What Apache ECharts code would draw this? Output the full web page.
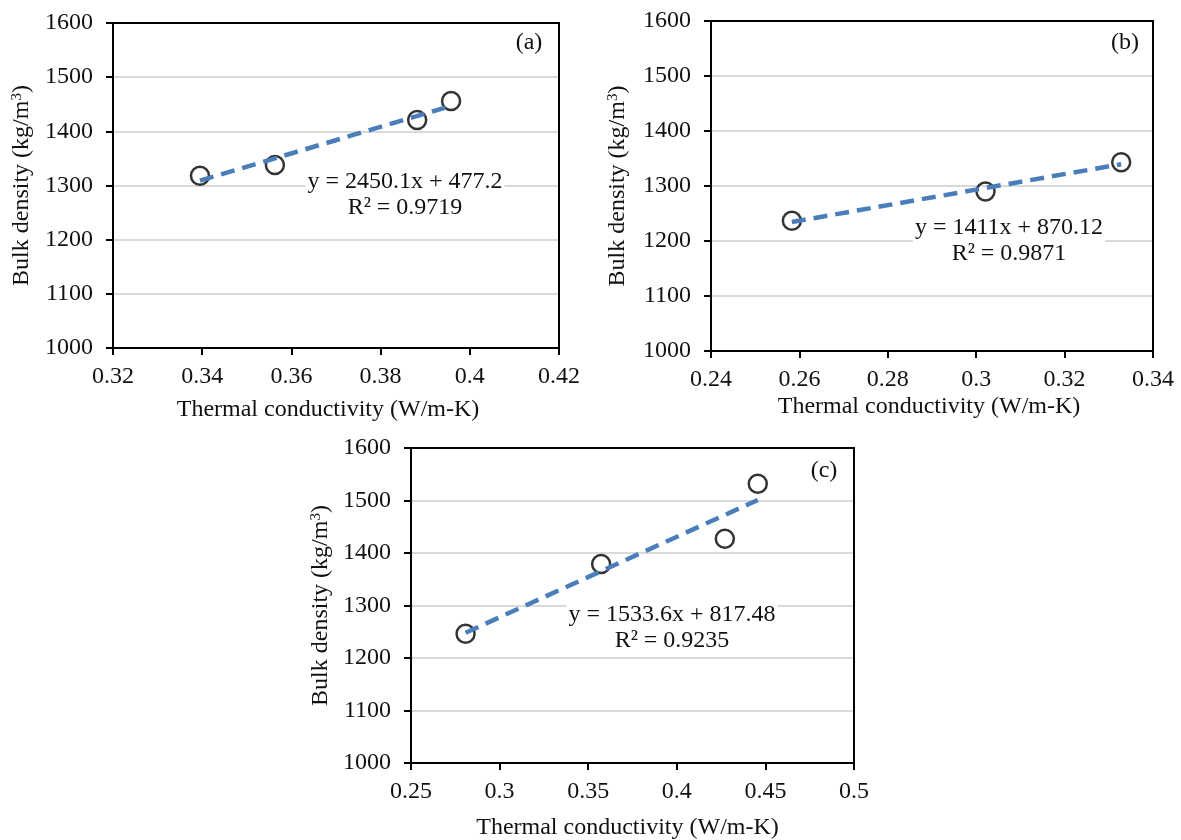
<!DOCTYPE html>
<html>
<head>
<meta charset="utf-8">
<script src="https://cdn.jsdelivr.net/npm/echarts@6/dist/echarts.min.js"></script>
<style>
html,body{margin:0;padding:0;background:#fff;}
#chart{width:1181px;height:840px;}
</style>
</head>
<body>
<div id="chart"></div>
<script>
// ---- Data ----
const xA = [0.3395, 0.3563, 0.3882, 0.3958];
const yA = [1318, 1338, 1421, 1456];
const fitA = [2450.1, 477.2];
const eqA = ['y = 2450.1x + 477.2', 'R² = 0.9719'];

const xB = [0.2583, 0.3021, 0.3328];
const yB = [1237, 1290, 1343];
const fitB = [1411, 870.12];
const eqB = ['y = 1411x + 870.12', 'R² = 0.9871'];

const xC = [0.2808, 0.3573, 0.4271, 0.4457];
const yC = [1246, 1379, 1427, 1532];
const fitC = [1533.6, 817.48];
const eqC = ['y = 1533.6x + 817.48', 'R² = 0.9235'];

const xTicksA = [0.32, 0.34, 0.36, 0.38, 0.4, 0.42];
const xTicksB = [0.24, 0.26, 0.28, 0.3, 0.32, 0.34];
const xTicksC = [0.25, 0.3, 0.35, 0.4, 0.45, 0.5];
const yTicks = [1000, 1100, 1200, 1300, 1400, 1500, 1600];

const panelLabels = ['(a)', '(b)', '(c)'];
const xTitle = 'Thermal conductivity (W/m-K)';
const yTitle = 'Bulk density (kg/m{sup|3})';

// ---- Build ----
const FONT = '"Liberation Serif", "Times New Roman", serif';
const FS = 24;
const TXT = '#111';
const grids = [
  {left: 113, top: 23, width: 446, height: 325},
  {left: 711, top: 21, width: 442, height: 330},
  {left: 411, top: 448, width: 443, height: 315}
];
const xNameGap = [50, 44, 53];
const yNameGap = [79, 81, 78];
const xNamePad = [[0, 16, 0, 0], [0, 6, 0, 0], [0, 10, 0, 0]];
const xTickSets = [xTicksA, xTicksB, xTicksC];

function pairs(xs, ys) { return xs.map((x, i) => [x, ys[i]]); }
function fitLine(xs, fit) {
  const lo = Math.min(...xs), hi = Math.max(...xs);
  return [[lo, fit[0] * lo + fit[1]], [hi, fit[0] * hi + fit[1]]];
}

const xAxes = [];
xTickSets.forEach((t, i) => {
  const base = {min: t[0], max: t[t.length - 1], interval: +(t[1] - t[0]).toFixed(4)};
  xAxes.push(Object.assign({
    type: 'value', gridIndex: i, position: 'bottom',
    name: xTitle, nameLocation: 'middle', nameGap: xNameGap[i],
    nameTextStyle: {fontFamily: FONT, fontSize: FS, color: TXT, padding: xNamePad[i]},
    axisLine: {show: true, onZero: false, lineStyle: {color: '#000', width: 2}},
    axisTick: {show: true, inside: false, length: 7, lineStyle: {color: '#000', width: 2}},
    axisLabel: {fontFamily: FONT, fontSize: FS, color: TXT, margin: 17,
      formatter: v => { const m = t.find(k => Math.abs(k - v) < 1e-9); return m !== undefined ? String(m) : ''; }},
    splitLine: {show: false}
  }, base));
  // top frame line
  xAxes.push(Object.assign({
    type: 'value', gridIndex: i, position: 'top', z: 5,
    axisLine: {show: true, onZero: false, lineStyle: {color: '#000', width: 2}},
    axisTick: {show: false}, axisLabel: {show: false}, splitLine: {show: false}
  }, base));
});

const yAxes = [];
[0, 1, 2].forEach(i => {
  const base = {min: yTicks[0], max: yTicks[yTicks.length - 1], interval: yTicks[1] - yTicks[0]};
  yAxes.push(Object.assign({
    type: 'value', gridIndex: i, position: 'left',
    name: yTitle, nameLocation: 'middle', nameGap: yNameGap[i],
    nameTextStyle: {fontFamily: FONT, fontSize: FS, color: TXT,
      rich: {sup: {fontFamily: FONT, fontSize: 15, color: TXT, verticalAlign: 'top', lineHeight: 14}}},
    axisLine: {show: true, onZero: false, lineStyle: {color: '#000', width: 2}},
    axisTick: {show: true, inside: false, length: 7, lineStyle: {color: '#000', width: 2}},
    axisLabel: {fontFamily: FONT, fontSize: FS, color: TXT, margin: 20, formatter: v => String(v)},
    splitLine: {show: true, lineStyle: {color: '#d9d9d9', width: 2}}
  }, base));
  // right frame line
  yAxes.push(Object.assign({
    type: 'value', gridIndex: i, position: 'right', z: 5,
    axisLine: {show: true, onZero: false, lineStyle: {color: '#000', width: 2}},
    axisTick: {show: false}, axisLabel: {show: false}, splitLine: {show: false}
  }, base));
});

const datasets = [[xA, yA, fitA], [xB, yB, fitB], [xC, yC, fitC]];
const series = [];
datasets.forEach((d, i) => {
  series.push({
    type: 'line', xAxisIndex: 2 * i, yAxisIndex: 2 * i, data: fitLine(d[0], d[2]),
    symbol: 'none', silent: true, z: 4,
    lineStyle: {color: '#4a7ebb', width: 4.5, type: [14, 8], cap: 'butt'}
  });
  series.push({
    type: 'scatter', xAxisIndex: 2 * i, yAxisIndex: 2 * i, data: pairs(d[0], d[1]),
    symbol: 'circle', symbolSize: 18, z: 3,
    itemStyle: {color: 'rgba(0,0,0,0)', borderColor: '#000', borderWidth: 2.5}
  });
});

const eqPos = [
  {x: 405, y: 195, lx: 529, ly: 43},
  {x: 1009, y: 241, lx: 1125, ly: 43},
  {x: 672, y: 628, lx: 824, ly: 471}
];
const eqs = [eqA, eqB, eqC];
const graphic = [];
eqPos.forEach((p, i) => {
  graphic.push({type: 'text', x: p.x, y: p.y, z: 10, style: {
    text: eqs[i].join('\n'), font: FS + 'px ' + FONT, fill: TXT, align: 'center', verticalAlign: 'middle',
    lineHeight: 26, backgroundColor: '#fff', padding: [0, 2, 0, 2]}});
  graphic.push({type: 'text', x: p.lx, y: p.ly, z: 10, style: {text: panelLabels[i], font: FS + 'px ' + FONT, fill: TXT, align: 'center', verticalAlign: 'middle'}});
});

const chart = echarts.init(document.getElementById('chart'), null, {renderer: 'canvas'});
chart.setOption({
  backgroundColor: '#fff',
  animation: false,
  grid: grids.map(g => Object.assign({show: false, outerBoundsMode: 'none', containLabel: false}, g)),
  xAxis: xAxes,
  yAxis: yAxes,
  series: series,
  graphic: graphic
});
</script>
</body>
</html>
